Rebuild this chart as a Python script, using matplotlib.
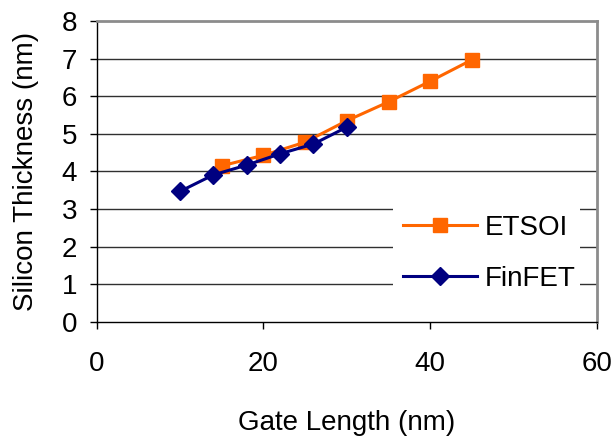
import matplotlib
matplotlib.use("Agg")
import matplotlib.pyplot as plt
from matplotlib.patches import Rectangle

plt.rcParams['font.family'] = ['Liberation Sans', 'DejaVu Sans']

etsoi_len = [15, 20, 25, 30, 35, 40, 45]
etsoi_thk = [4.15, 4.43, 4.78, 5.35, 5.85, 6.4, 6.97]
finfet_len = [10, 14, 18, 22, 26, 30]
finfet_thk = [3.47, 3.91, 4.17, 4.47, 4.73, 5.18]
x_ticks = [0, 20, 40, 60]
y_ticks = [0, 1, 2, 3, 4, 5, 6, 7, 8]

fig = plt.figure(figsize=(6.15, 4.38), dpi=100)
ax = fig.add_axes([0.157, 0.265, 0.814, 0.687])

ax.plot(etsoi_len, etsoi_thk, color='#FF6600', lw=2.2, marker='s',
        markersize=10.5, label='ETSOI', zorder=3)
ax.plot(finfet_len, finfet_thk, color='#000080', lw=2.2, marker='D',
        markersize=9.5, label='FinFET', zorder=4)

ax.set_xlim(0, 60)
ax.set_ylim(0, 8)
ax.set_xticks(x_ticks)
ax.set_yticks(y_ticks)
ax.tick_params(labelsize=20, direction='out', length=5, width=1, color='black')
ax.tick_params(axis='y', pad=9)
ax.tick_params(axis='x', pad=16)

for y in y_ticks[1:-1]:
    ax.axhline(y, color='#303030', lw=1, zorder=1)

for s in ('left', 'bottom'):
    ax.spines[s].set_color('black')
    ax.spines[s].set_linewidth(1)
for s in ('top', 'right'):
    ax.spines[s].set_color('#8c8c8c')
    ax.spines[s].set_linewidth(2)

ax.set_xlabel('Gate Length (nm)', fontsize=20, labelpad=24)
ax.set_ylabel('Silicon Thickness (nm)', fontsize=20, labelpad=16)

# white backing for the legend area
ax.add_patch(Rectangle((0.592, 0.056), 0.374, 0.364, transform=ax.transAxes,
                       facecolor='white', edgecolor='none', zorder=2))
ax.legend(loc='center left', bbox_to_anchor=(0.612, 0.228), frameon=False,
          fontsize=20, handlelength=2.65, handletextpad=0.3,
          labelspacing=0.9, borderpad=0, borderaxespad=0)

fig.savefig('out.png', dpi=100)
